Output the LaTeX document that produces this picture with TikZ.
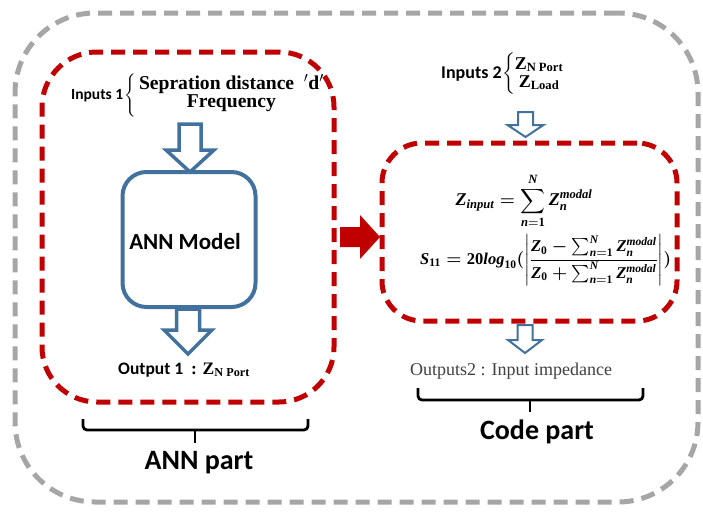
\documentclass[tikz,border=0pt]{standalone}
\usepackage{amsmath}
\usepackage[no-math]{fontspec}
\setmainfont{Liberation Serif}
\newfontfamily\calibri{Carlito}
\definecolor{dred}{HTML}{C00000}
\definecolor{lgray}{HTML}{A6A6A6}
\definecolor{sblue}{HTML}{41719C}
\definecolor{tgray}{HTML}{404040}
\newcommand{\blockdown}[7]{% x, ytop, ybase, ytip, shafthalf, headhalf, linewidth
  \draw[sblue, fill=white, line width=#7, line join=miter]
    (#1-#5,#2) -- (#1+#5,#2) -- (#1+#5,#3) -- (#1+#6,#3) -- (#1,#4)
    -- (#1-#6,#3) -- (#1-#5,#3) -- cycle;}
\newcommand{\bit}[1]{\text{\normalfont\bfseries\itshape #1}}
\newcommand{\bup}[1]{\text{\normalfont\bfseries #1}}
\newcommand{\myinone}{\calibri\bfseries\fontsize{15.5}{18}\selectfont Inputs 1\hspace{1pt}%
  $\left\{\vcenter{\hbox{\rule{0pt}{44pt}}}\right.$\hspace{2pt}%
  {\rmfamily\bfseries\fontsize{19.6}{22}\selectfont\begin{tabular}{@{}c@{}}Sepration distance \ $'$d$'$\\[-4pt] Frequency\end{tabular}}}
\newcommand{\myintwo}{\calibri\bfseries\fontsize{18}{21}\selectfont Inputs 2\hspace{1pt}%
  $\left\{\vcenter{\hbox{\rule{0pt}{44pt}}}\right.$\hspace{-2pt}%
  {\rmfamily\bfseries\fontsize{18}{21}\selectfont\begin{tabular}{@{}c@{}}$\text{Z}_{\text{N Port}}$\\[-3pt] $\text{Z}_{\text{Load}}$\end{tabular}}}
\newcommand{\myoutone}{\calibri\bfseries\fontsize{17.5}{20}\selectfont Output 1 \ {\rmfamily\bfseries : $\text{Z}_{\text{N Port}}$}}
\begin{document}
\begin{tikzpicture}[x=1pt,y=-1pt,
  dashbox/.style={draw, line width=5pt, dash pattern=on 14pt off 8pt, inner sep=0pt},
  lbl/.style={inner sep=0pt},
  bracket/.style={black, line width=2.8pt, rounded corners=4pt}]
\useasboundingbox (0,0) rectangle (703,514);
% outer box
\node[dashbox, lgray, rounded corners=80pt, minimum width=683pt, minimum height=489pt] (outer) at (356.5,257.5) {};
% left red box
\node[dashbox, dred, rounded corners=55pt, minimum width=292pt, minimum height=350pt] (annbox) at (188,227) {};
% right red box
\node[dashbox, dred, rounded corners=40pt, minimum width=295pt, minimum height=178pt] (codebox) at (529.5,232) {};
% ANN model box
\node[draw=sblue, line width=4pt, rounded corners=24pt, minimum width=133pt, minimum height=135pt, inner sep=0pt] (model) at (189,239.5) {};
\node[lbl, font=\calibri\bfseries\fontsize{23}{27}\selectfont] (modeltxt) at (185,242) {ANN Model};
% block arrows
\blockdown{190}{124}{150}{172}{11}{24}{3.5pt}
\blockdown{188}{309}{330}{354}{11.5}{24}{3.5pt}
\blockdown{525.5}{112}{125}{137}{7.5}{18}{2pt}
\blockdown{525}{325}{340}{353}{7.5}{17}{2pt}
% red arrow
\fill[dred] (340,227) -- (360,227) -- (360,215) -- (380,237) -- (360,259) -- (360,247) -- (340,247) -- cycle;
% inputs
\node[lbl, anchor=west] (in1) at (71,96) {\myinone};
\node[lbl, anchor=west] (in2) at (441,74) {\myintwo};
% equations
\node[lbl, font=\fontsize{18}{21}\selectfont\boldmath] (eq1) at (524,201) {$\displaystyle \bit{Z}_{\bit{input}} = \sum_{\bit{n}=\bup{1}}^{\bit{N}} \bit{Z}_{\bit{n}}^{\bit{modal}}$};
\node[lbl, anchor=west, font=\fontsize{16.5}{19}\selectfont\boldmath] (eq2) at (420,260) {$\bit{S}_{\bup{11}} = \bup{20}\bit{log}_{\bup{10}}(\left|\dfrac{\bit{Z}_{\bup{0}}-\sum_{\bit{n}=\bup{1}}^{\bit{N}} \bit{Z}_{\bit{n}}^{\bit{modal}}}{\bit{Z}_{\bup{0}}+\sum_{\bit{n}=\bup{1}}^{\bit{N}} \bit{Z}_{\bit{n}}^{\bit{modal}}}\right|)$};
% outputs
\node[lbl, anchor=west] (out1) at (118,370) {\myoutone};
\node[lbl, anchor=west, text=tgray, font=\fontsize{18}{21}\selectfont] (out2) at (410,371) {Outputs2 : Input impedance};
% braces
\coordinate (b1a) at (83,419);
\coordinate (b1b) at (308,419);
\coordinate (b1m) at (195,430);
\coordinate (b1t) at (195,443);
\draw[bracket] (b1a) |- (b1m);
\draw[bracket] (b1b) |- (b1m);
\draw[bracket] (b1m) -- (b1t);
\coordinate (b2a) at (418,388);
\coordinate (b2b) at (643,388);
\coordinate (b2m) at (530,400);
\coordinate (b2t) at (530,412);
\draw[bracket] (b2a) |- (b2m);
\draw[bracket] (b2b) |- (b2m);
\draw[bracket] (b2m) -- (b2t);
\node[lbl, font=\calibri\bfseries\fontsize{28}{32}\selectfont] (annpart) at (199,463) {ANN part};
\node[lbl, font=\calibri\bfseries\fontsize{28}{32}\selectfont] (codepart) at (537,432) {Code part};
\end{tikzpicture}
\end{document}
